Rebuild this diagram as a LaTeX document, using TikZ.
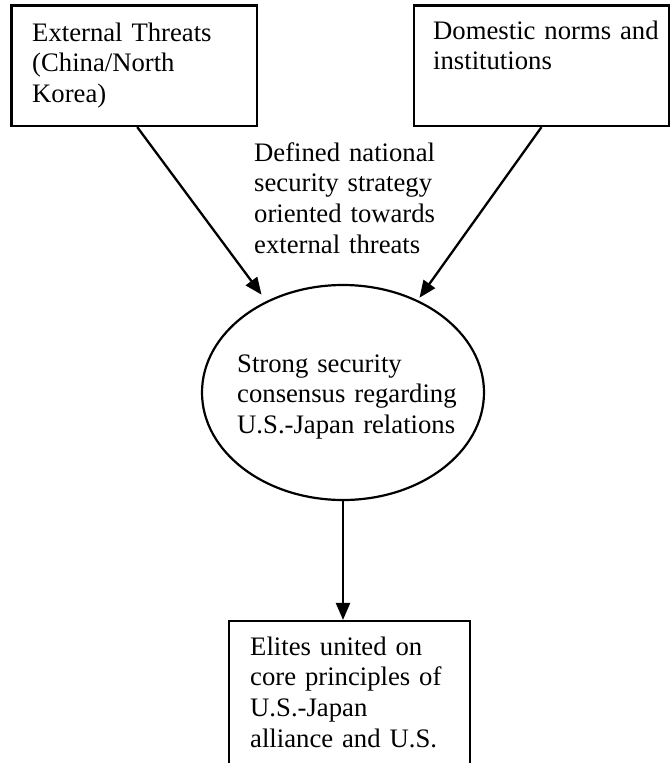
\documentclass[tikz,border=0pt]{standalone}
\usepackage{fontspec}
\setmainfont{Liberation Serif}
\usetikzlibrary{arrows.meta,shapes.geometric}
\begin{document}
\begin{tikzpicture}[x=1pt,y=-1pt,
  txt/.style={font=\fontsize{26.7pt}{30.7pt}\selectfont, inner sep=0pt, anchor=base west, align=left, text width=260pt},
  boxnode/.style={draw, line width=2.2pt, rectangle, inner sep=0pt},
  arr/.style={draw, line width=2.3pt, -{Triangle[length=17pt,width=14pt]}}]
\useasboundingbox (0,0) rectangle (670,763);
\clip (0,0) rectangle (670,763);
\fill[white] (0,0) rectangle (670,763);
% boxes
\node[boxnode, minimum width=245.5pt, minimum height=120.5pt] (ext) at (134.25,65.75) {};
\node[boxnode, minimum width=255pt, minimum height=120.5pt] (dom) at (541.5,65.75) {};
\node[boxnode, minimum width=241pt, minimum height=190pt] (eli) at (349.5,716) {};
\node[draw, line width=2.2pt, ellipse, inner sep=0pt, minimum width=282pt, minimum height=215pt] (cons) at (343,392.5) {};
% texts
\node[txt] (exttxt) at (32,41) {External Threats\\(China/North\\Korea)};
\node[txt] (domtxt) at (433,39) {Domestic norms and\\institutions};
\node[txt] (midtxt) at (254,161) {Defined national\\security strategy\\oriented towards\\external threats};
\node[txt] (constxt) at (237,372) {Strong security\\consensus regarding\\U.S.-Japan relations};
\node[txt] (elitxt) at (250,655) {Elites united on\\core principles of\\U.S.-Japan\\alliance and U.S.};
% connectors
\draw[arr, shorten >=8pt] ([xshift=3pt]ext.south) -- (cons.130.6);
\draw[arr, shorten >=3pt] (dom.south) -- (cons.51.7);
\draw[arr] (cons.south) -- (cons.south |- eli.north);
\end{tikzpicture}
\end{document}
